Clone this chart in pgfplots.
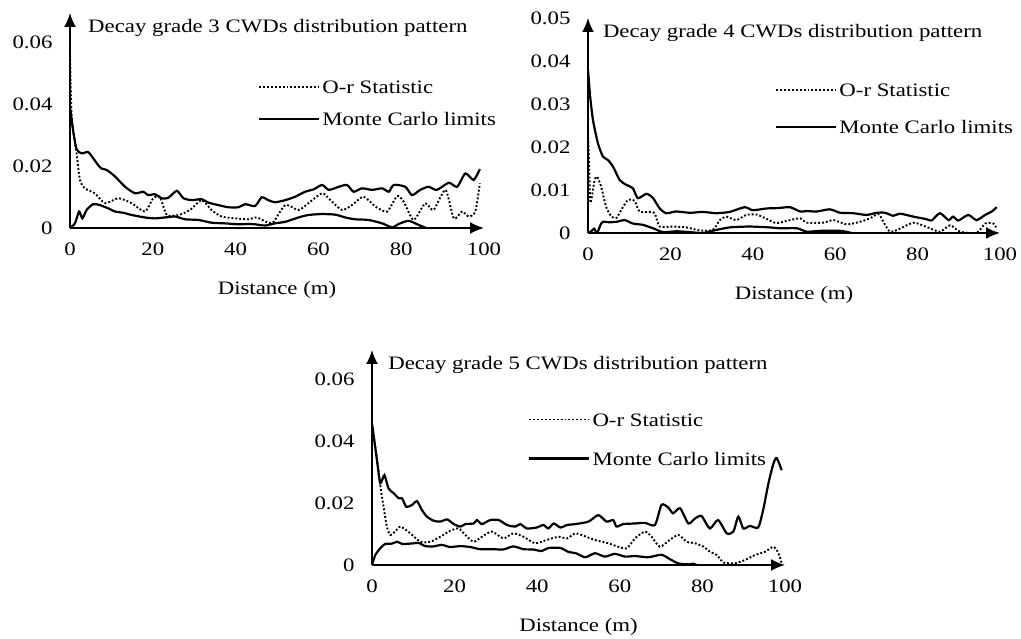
\documentclass[border=0pt]{standalone}
\usepackage{fontspec}
\setmainfont{Liberation Serif}[FakeStretch=1.2]
\usepackage{pgfplots}
\pgfplotsset{compat=1.18}
\usetikzlibrary{arrows.meta}
\newcommand\fs{\fontsize{19}{22}\selectfont}

\pgfplotsset{
  cwd/.style={
    scale only axis, height=215pt,
    axis lines=left,
    axis line style={line width=2pt, -{Latex[length=14pt,width=12pt]}},
    xmin=0, xmax=100, ymin=0,
    xtick={0,20,...,100},
    major tick length=0pt,
    scaled y ticks=false,
    /pgf/number format/assume math mode=true,
    yticklabel style={/pgf/number format/fixed, /pgf/number format/precision=2, xshift=-14pt},
    xticklabel style={yshift=-11pt},
    tick label style={font=\fs},
    xlabel={Distance (m)},
    xlabel style={font=\fs, at={(axis description cs:0.5,0)}, anchor=center, yshift=-62pt},
    title style={font=\fs, anchor=base west, inner sep=0pt},
    legend style={draw=none, fill=none, font=\fs, anchor=north west, inner sep=0pt,
      nodes={inner sep=2pt, text height=12pt, text depth=4pt}},
    legend cell align=left,
    legend image code/.code={\draw[##1] (0pt,3pt) -- (60pt,3pt);},
  },
  orstat/.style={black, line width=1.9pt, dash pattern=on 1.9pt off 2pt, smooth, tension=0.4},
  mclim/.style={black, line width=2.2pt, smooth, tension=0.4},
}

\begin{document}
\begin{tikzpicture}

% decay grade 3
\begin{axis}[cwd, at={(70pt,411pt)}, anchor=south west, width=414pt,
  ymax=0.0694, ytick={0,0.02,0.04,0.06},
  title={Decay grade 3 CWDs distribution pattern},
  title style={at={(axis description cs:0.0435,0.88)}},
  legend style={at={(axis description cs:0.454,0.69)}, row sep=12pt}]
\addplot[orstat] coordinates {
(0,0.057) (0.4,0.036) (1.6,0.024) (2.4,0.0155) (3.6,0.0128) (6,0.0112)
(8.5,0.008) (11.7,0.0096) (14.9,0.008) (18.1,0.0053) (20.1,0.0096) (21.7,0.0101)
(23.4,0.0042) (26.2,0.0042) (29,0.0058) (31.8,0.009) (34.2,0.0058) (36.6,0.0037)
(39.9,0.0031) (43.1,0.0028) (45.1,0.0034) (47.9,0.0017) (49.2,0.002) (52,0.0074)
(55.2,0.0058) (57.6,0.008) (60.9,0.0112) (62.9,0.009) (65.7,0.0058) (68.1,0.0074)
(70.9,0.0101) (73.8,0.0069) (76.6,0.0053) (79,0.0103) (80.6,0.0085) (83,0.0026)
(85.8,0.008) (87.8,0.0058) (90.7,0.0123) (92.7,0.0031) (94.7,0.0053) (96.3,0.0037)
(97.9,0.0053) (99,0.0144)
};
\addlegendentry{O-r Statistic}
\addplot[mclim] coordinates {
(0,0.039) (0.8,0.031) (1.6,0.0254) (2.8,0.0241) (4.4,0.0245) (5.6,0.0225)
(6.8,0.0203) (7.6,0.0192) (8.9,0.0187) (10.9,0.0166) (13.3,0.0133) (15.7,0.0112)
(17.7,0.0117) (18.9,0.0106) (20.5,0.0109) (22.1,0.0096) (23.7,0.0097) (25.8,0.012)
(27.4,0.0096) (29.4,0.009) (31.8,0.0093) (33.4,0.0082) (35.8,0.0074) (38.2,0.0067)
(40.7,0.0067) (42.3,0.0077) (44.7,0.0071) (46.3,0.0099) (47.9,0.009) (49.5,0.0083)
(52,0.009) (54.4,0.0101) (56.8,0.0117) (58.9,0.0125) (60.9,0.0139) (62.5,0.0123)
(64.9,0.0133) (66.9,0.0139) (68.5,0.0117) (70.5,0.0128) (73,0.0123) (75.4,0.0128)
(77,0.0117) (78.2,0.0139) (81,0.0133) (82.6,0.0106) (84.6,0.0123) (86.6,0.0133)
(88.6,0.0123) (91.5,0.0146) (93.5,0.0133) (95.5,0.0176) (97.5,0.0155) (99,0.019)
};
\addlegendentry{Monte Carlo limits}
\addplot[mclim, forget plot] coordinates {
(0,0) (1.2,0.0015) (2.2,0.0053) (3,0.0031) (4,0.0058) (5.6,0.0077) (7.2,0.0074)
(9.3,0.0063) (10.9,0.0053) (12.9,0.0049) (14.9,0.0042) (18.1,0.0034) (20.5,0.0031)
(22.9,0.0034) (25.4,0.0037) (27.8,0.0028) (31,0.0026) (34.2,0.0017) (37.4,0.0015)
(40.7,0.0012) (43.9,0.0013) (47.1,0.0008) (49.5,0.0015) (52,0.002) (55.2,0.0034)
(57.6,0.0042) (60.9,0.0045) (64.1,0.0043) (66.5,0.0034) (68.9,0.0028) (72.1,0.0026)
(75.4,0.0015) (77.8,0.0002) (79.4,0.0013) (81.8,0.0023) (84.2,0.001) (86,0)
};
\end{axis}

% decay grade 4
\begin{axis}[cwd, at={(588pt,406pt)}, anchor=south west, width=412pt,
  ymax=0.05, ytick={0,0.01,...,0.05},
  title={Decay grade 4 CWDs distribution pattern},
  title style={at={(axis description cs:0.036,0.88)}},
  legend style={at={(axis description cs:0.454,0.70)}, row sep=17pt}]
\addplot[orstat] coordinates {
(0,0.024) (0.3,0.015) (0.6,0.007) (1.6,0.0123) (2.2,0.0131) (3.2,0.0108)
(4.4,0.0061) (5.7,0.0038) (6.9,0.0035) (8.1,0.0054) (9.7,0.0077) (11.3,0.0075)
(12.5,0.005) (15,0.0049) (16.2,0.0046) (17.4,0.0015) (20.6,0.0015) (23.9,0.0013)
(27.1,0.0006) (30.3,0.0007) (32,0.003) (33.6,0.0038) (36,0.003) (38.4,0.0042)
(40.9,0.0043) (43.3,0.0033) (45.7,0.0023) (49,0.003) (51.5,0.0034) (53.1,0.0024)
(57.1,0.0024) (59.6,0.003) (62.8,0.002) (66,0.0026) (68.4,0.0034) (70.5,0.0044)
(71.7,0.0026) (73.3,0.0003) (75.7,0.001) (79,0.0024) (82.2,0.0014) (85.4,0.0003)
(87.9,0.0018) (90.3,0.0003) (94.3,0) (96.4,0.0022) (98.4,0.0022) (99.2,0.001)
};
\addlegendentry{O-r Statistic}
\addplot[mclim] coordinates {
(0,0.038) (0.5,0.032) (1.2,0.0263) (2.4,0.0209) (3.6,0.0178) (4.8,0.017)
(6.1,0.0154) (7.7,0.0123) (9.3,0.0112) (10.9,0.0104) (12.1,0.0081) (14.2,0.0091)
(15.8,0.0081) (17.4,0.0057) (19,0.0046) (21.4,0.005) (24.7,0.0047) (27.9,0.0049)
(31.1,0.0046) (34.4,0.0049) (38,0.006) (40,0.0053) (43.3,0.0057) (46.2,0.0058)
(49,0.006) (51.5,0.005) (53.1,0.0051) (55.5,0.005) (58.7,0.0055) (61.2,0.0047)
(64.4,0.0046) (67.6,0.0042) (70.1,0.0047) (72.1,0.0047) (74.1,0.004) (75.7,0.0045)
(79,0.0038) (82.2,0.0032) (83.4,0.0029) (85.4,0.0046) (87.5,0.003) (88.6,0.0038)
(89.9,0.0029) (92.3,0.0042) (94.3,0.003) (96.4,0.0042) (98,0.005) (99.2,0.006)
};
\addlegendentry{Monte Carlo limits}
\addplot[mclim, forget plot] coordinates {
(0,0) (0.8,0.0004) (1.5,0.001) (2.2,0) (3,0.0018) (3.6,0.0026) (5.2,0.0025)
(6.9,0.0026) (8.9,0.003) (10.9,0.0022) (13.3,0.0019) (15.8,0.0011) (18.2,0.0002)
(21.4,0.0004) (24.7,0.0002) (27.9,0) (31.1,0.0007) (34.4,0.0013) (39.2,0.0015)
(44.1,0.0013) (46.6,0.0011) (50.7,0.0011) (53.1,0.0003) (56.4,0.0005) (61.2,0.0005)
(64,0)
};
\end{axis}

% decay grade 5
\begin{axis}[cwd, at={(372pt,74pt)}, anchor=south west, width=413pt,
  ymax=0.0694, ytick={0,0.02,0.04,0.06},
  title={Decay grade 5 CWDs distribution pattern},
  title style={at={(axis description cs:0.039,0.882)}},
  legend style={at={(axis description cs:0.378,0.71)}, row sep=19pt}]
\addplot[orstat] coordinates {
(0,0.0457) (1.2,0.034) (2,0.0258) (2.8,0.0188) (3.6,0.0124) (4.4,0.0097)
(5.6,0.0108) (6.9,0.0124) (9.3,0.0102) (11.7,0.0075) (14.1,0.0075) (16.5,0.0091)
(19,0.0111) (21,0.0118) (22.6,0.0097) (24.6,0.0075) (26.6,0.0091) (29,0.0108)
(31.8,0.0086) (34.2,0.0102) (36.7,0.0091) (39.5,0.007) (42.3,0.0081) (45.2,0.0091)
(47.2,0.0086) (49.2,0.0102) (50.7,0.0097) (53.9,0.0081) (57.2,0.007) (59.6,0.0059)
(61.7,0.0054) (63.7,0.0086) (66.1,0.0108) (67.7,0.0091) (69.7,0.0059) (72.1,0.0081)
(74.2,0.0097) (76.2,0.0075) (78.2,0.007) (80.3,0.0059) (81.8,0.0043) (83.5,0.0032)
(85.1,0.0008) (87.9,0.0006) (90.3,0.0016) (92.7,0.0032) (95.2,0.0043) (97.2,0.0059)
(98.4,0.0038) (99.2,0.0006)
};
\addlegendentry{O-r Statistic}
\addplot[mclim] coordinates {
(0,0.0457) (1.2,0.0339) (2,0.0264) (3,0.029) (4,0.0247) (5.3,0.0231) (6.5,0.0215)
(7.3,0.0215) (8.3,0.0188) (9.7,0.0194) (10.9,0.0206) (12.1,0.0177) (13.3,0.0156)
(14.9,0.0143) (16.5,0.014) (18.2,0.0147) (19.8,0.0132) (21.4,0.0124) (22.6,0.0132)
(24.6,0.0134) (25.4,0.0145) (26.6,0.0132) (28.6,0.0145) (30.7,0.0145) (32.7,0.0129)
(34.7,0.0124) (35.9,0.0132) (37.5,0.0118) (39.9,0.0121) (41.5,0.0129) (42.7,0.0118)
(44,0.0134) (45.6,0.0121) (47.2,0.0129) (49.2,0.0132) (52.4,0.014) (54.8,0.0161)
(56.8,0.014) (58.4,0.0145) (59.2,0.0124) (60.8,0.0132) (63.7,0.0134) (66.1,0.0136)
(68.5,0.0129) (70.1,0.0194) (71.7,0.0186) (72.9,0.0167) (74.6,0.0183) (76.6,0.0134)
(78.2,0.015) (79.8,0.0158) (81.8,0.0118) (83.8,0.0145) (85.9,0.0102) (87.5,0.0108)
(88.7,0.0156) (89.9,0.0118) (91.5,0.0126) (93.5,0.0121) (94.7,0.0177) (96,0.0264)
(97.2,0.0328) (98,0.0345) (99.2,0.0306)
};
\addlegendentry{Monte Carlo limits}
\addplot[mclim, forget plot] coordinates {
(0,0) (0.8,0.0032) (2,0.0054) (3.2,0.0068) (4.8,0.0069) (6.1,0.0075) (7.3,0.0068)
(9.3,0.0069) (11.3,0.0071) (12.9,0.0061) (14.9,0.006) (16.9,0.0065) (18.9,0.0058)
(21.4,0.0061) (23.8,0.0058) (26.2,0.0051) (29.4,0.0051) (31.8,0.005) (34.2,0.006)
(36.7,0.0051) (39.1,0.005) (41.1,0.0045) (42.7,0.0055) (45.6,0.0055) (47.6,0.0042)
(49.4,0.0038) (51.6,0.0025) (54,0.0038) (56.4,0.0027) (58.8,0.0036) (61.3,0.0027)
(63.7,0.0029) (66.9,0.0025) (70.1,0.0033) (72.1,0.0019) (74.2,0.0005) (76.6,0.0002)
(77.8,0.0004) (78.6,0)
};
\end{axis}

\pgfresetboundingbox
\path[use as bounding box] (0,0) rectangle (1021pt,639pt);
\end{tikzpicture}
\end{document}
